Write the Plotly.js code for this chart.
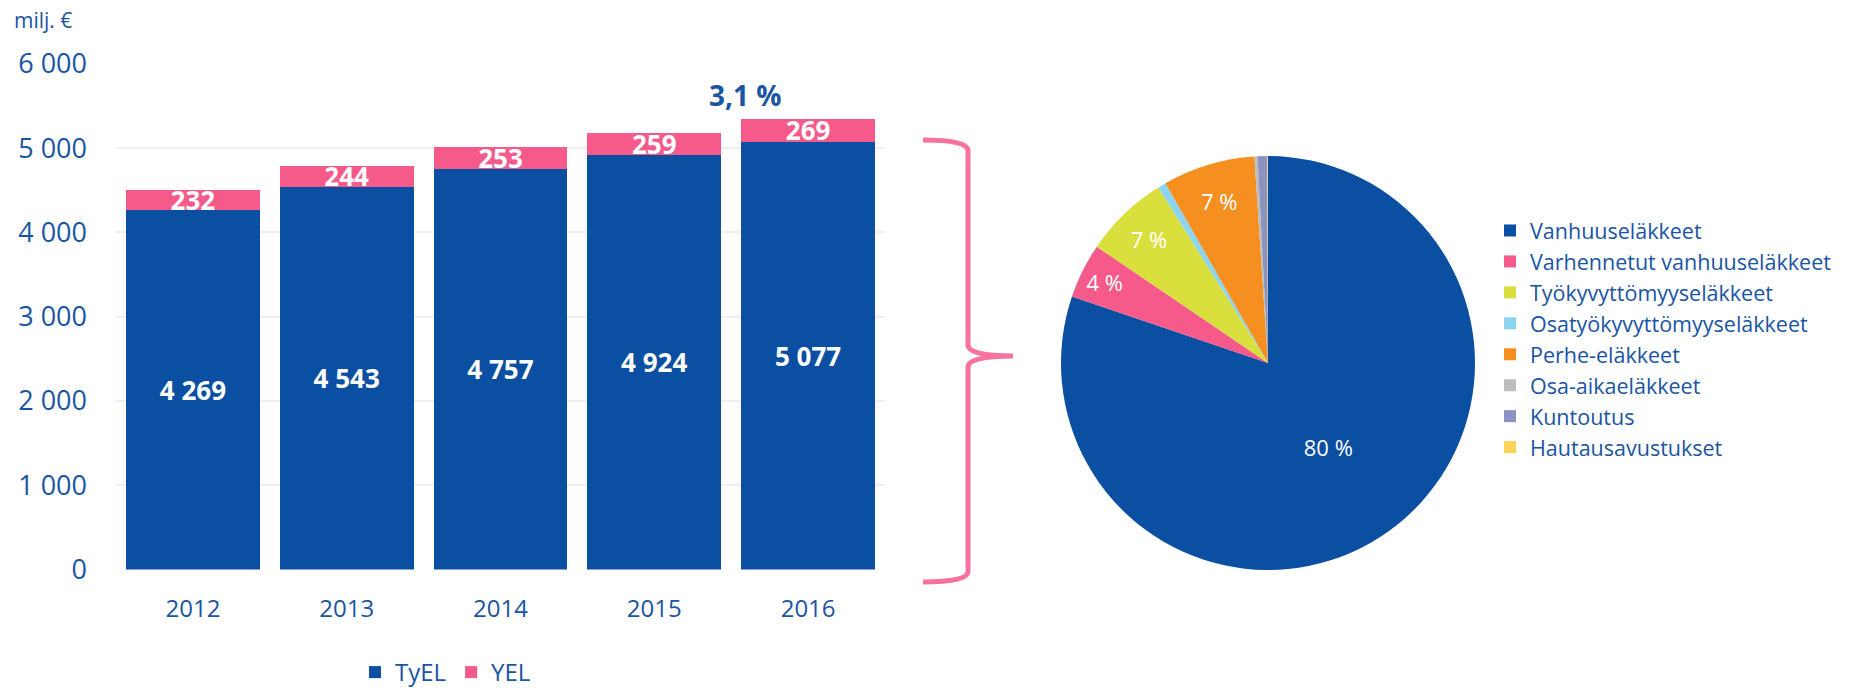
<!DOCTYPE html>
<html>
<head>
<meta charset="utf-8">
<script src="https://cdn.plot.ly/plotly-3.0.1.min.js"></script>
<style>
  body { margin: 0; background: #fff; }
  #chart { width: 1849px; height: 695px; }
</style>
</head>
<body>
<div id="chart"></div>
<script>
var years = ['2012', '2013', '2014', '2015', '2016'];
var tyel = [4269, 4543, 4757, 4924, 5077];
var yel = [232, 244, 253, 259, 269];
var yTicks = [0, 1000, 2000, 3000, 4000, 5000, 6000];
var yTickText = ['0', '1 000', '2 000', '3 000', '4 000', '5 000', '6 000'];

var pensionTypes = ['Vanhuuseläkkeet', 'Varhennetut vanhuuseläkkeet', 'Työkyvyttömyyseläkkeet',
    'Osatyökyvyttömyyseläkkeet', 'Perhe-eläkkeet', 'Osa-aikaeläkkeet', 'Kuntoutus', 'Hautausavustukset'];
var pensionShares = [80.2, 4.3, 6.6, 0.65, 7.2, 0.25, 0.75, 0.05];
var pensionLabels = ['80 %', '4 %', '7 %', '', '7 %', '', '', ''];
var growthLabel = '3,1 %';

var W = 1849, H = 695;
var BLUE = '#0b4fa2', PINK = '#f55a8b', TEXT = '#1a55a3';
var FONT = 'Open Sans, sans-serif';

// pixel -> paper helpers (margins are zero, so paper == page)
function px(x) { return x / W; }
function py(y) { return 1 - y / H; }

function fmt(v) {
    return String(v).replace(/\B(?=(\d{3})+(?!\d))/g, ' ');
}

window.onload = function () {

    var tyelBar = {
        x: years, y: tyel, type: 'bar', name: 'TyEL',
        marker: {color: BLUE},
        text: tyel.map(fmt), textposition: 'inside', insidetextanchor: 'middle',
        constraintext: 'none',
        textfont: {color: '#fff', size: 26, family: FONT, weight: 'bold'},
        legend: 'legend'
    };

    var yelBar = {
        x: years, y: yel, type: 'bar', name: 'YEL',
        marker: {color: PINK},
        text: yel.map(fmt), textposition: 'inside', insidetextanchor: 'middle',
        constraintext: 'none',
        textfont: {color: '#fff', size: 26, family: FONT, weight: 'bold'},
        legend: 'legend'
    };

    var pie = {
        type: 'pie', labels: pensionTypes, values: pensionShares,
        sort: false, direction: 'clockwise', rotation: 0,
        marker: {colors: ['#0b4fa2', '#f55a8b', '#d9df3d', '#8dd4f0', '#f58f1f', '#bdbdbd', '#8b93c0', '#fdd35a'],
                 line: {width: 0}},
        text: pensionLabels, textinfo: 'text', textposition: 'inside',
        insidetextorientation: 'horizontal',
        textfont: {color: '#fff', size: 22, family: FONT},
        domain: {x: [px(1061), px(1475)], y: [py(570), py(156)]},
        legend: 'legend2'
    };

    var layout = {
        width: W, height: H,
        margin: {l: 0, r: 0, t: 0, b: 0, autoexpand: false},
        paper_bgcolor: '#fff', plot_bgcolor: '#fff',
        barmode: 'stack', bargap: 0.13,
        font: {family: FONT, color: TEXT},
        xaxis: {
            domain: [px(116), px(885)],
            tickfont: {size: 24, color: TEXT},
            ticks: '', ticklabelstandoff: 22,
            showgrid: false, zeroline: false, showline: false
        },
        yaxis: {
            domain: [py(569.6), py(63.8)],
            range: [0, 6000],
            tickvals: yTicks, ticktext: yTickText,
            tickfont: {size: 27, color: TEXT},
            ticks: '', ticklabelstandoff: 28,
            gridcolor: '#efefef', gridwidth: 2,
            zeroline: false, showline: false
        },
        legend: {
            orientation: 'h', traceorder: 'normal',
            x: px(355), xanchor: 'left',
            y: 0, yanchor: 'bottom',
            font: {size: 24, color: TEXT}
        },
        legend2: {
            x: px(1490), xanchor: 'left', y: py(210), yanchor: 'top',
            font: {size: 21.5, color: TEXT}
        },
        annotations: [
            {text: 'milj. €', xref: 'paper', yref: 'paper', x: px(12), y: py(20),
             xanchor: 'left', yanchor: 'middle', showarrow: false,
             font: {size: 21, color: TEXT}},
            {text: '<b>' + growthLabel + '</b>', xref: 'paper', yref: 'paper', x: px(745), y: py(95),
             xanchor: 'center', yanchor: 'middle', showarrow: false,
             font: {size: 28, color: TEXT}}
        ],
        shapes: [
            {type: 'path', xref: 'paper', yref: 'paper',
             path: 'M' + px(923) + ',' + py(140) +
                   ' Q' + px(967) + ',' + py(140) + ' ' + px(968) + ',' + py(150) +
                   ' L' + px(968) + ',' + py(345) +
                   ' Q' + px(968) + ',' + py(356) + ' ' + px(1013) + ',' + py(356) +
                   ' Q' + px(968) + ',' + py(356) + ' ' + px(968) + ',' + py(367) +
                   ' L' + px(968) + ',' + py(572) +
                   ' Q' + px(967) + ',' + py(582) + ' ' + px(923) + ',' + py(582),
             line: {color: '#f7739e', width: 5}}
        ]
    };

    Plotly.newPlot('chart', [tyelBar, yelBar, pie], layout, {displayModeBar: false, staticPlot: true});
};
</script>
</body>
</html>
